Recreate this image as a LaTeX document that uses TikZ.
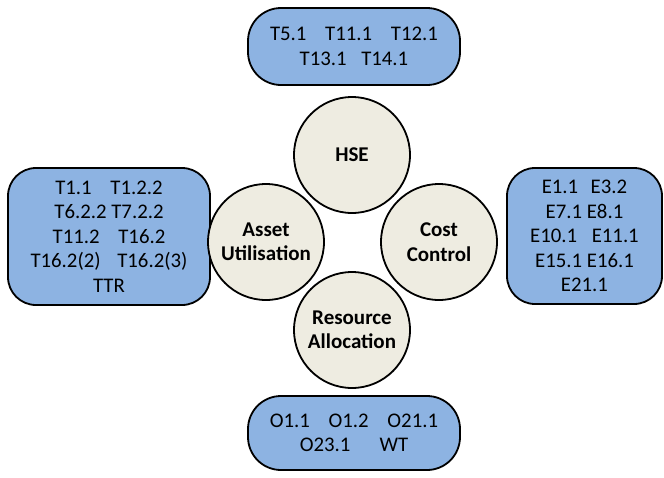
\documentclass[tikz,border=0pt]{standalone}
\usepackage{fontspec}
\setmainfont{Carlito}
\begin{document}
\begin{tikzpicture}[x=1pt,y=-1pt,
  codebox/.style={draw=black,line width=1.8pt,fill=boxblue,rounded corners=#1,
    align=center,inner sep=0pt,font=\fontsize{20.8}{24.5}\selectfont},
  theme/.style={circle,draw=black,line width=1.8pt,fill=themebeige,minimum size=116pt,
    inner sep=0pt,align=center,font=\bfseries\fontsize{21}{24.5}\selectfont}]
\definecolor{boxblue}{HTML}{8DB3E2}
\definecolor{themebeige}{HTML}{EEECE1}
\useasboundingbox (0,0) rectangle (664,477);

% code boxes
\node[codebox=33pt,minimum width=212pt,minimum height=77pt] (top) at (354,46.5)
  {T5.1\hspace{0.9em}T11.1\hspace{0.9em}T12.1\\T13.1\hspace{0.7em}T14.1};
\node[codebox=28pt,minimum width=202pt,minimum height=137pt] (left) at (109,236.5)
  {T1.1\hspace{0.9em}T1.2.2\\T6.2.2 T7.2.2\\T11.2\hspace{0.9em}T16.2\\T16.2(2)\hspace{0.8em}T16.2(3)\\TTR};
\node[codebox=28pt,minimum width=155pt,minimum height=136pt] (right) at (584.5,236)
  {E1.1\hspace{0.6em}E3.2\\E7.1 E8.1\\E10.1\hspace{0.7em}E11.1\\E15.1 E16.1\\E21.1};
\node[codebox=33pt,minimum width=212pt,minimum height=74pt] (bottom) at (354,433)
  {O1.1\hspace{0.9em}O1.2\hspace{0.9em}O21.1\\O23.1\hspace{1.4em}WT};

% theme circles
\node[theme] (hse) at (352,155) {HSE};
\node[theme] (asset) at (266,242) {Asset\\Utilisation};
\node[theme] (cost) at (439,242) {Cost\\Control};
\node[theme] (resource) at (352,330) {Resource\\Allocation};
\end{tikzpicture}
\end{document}
